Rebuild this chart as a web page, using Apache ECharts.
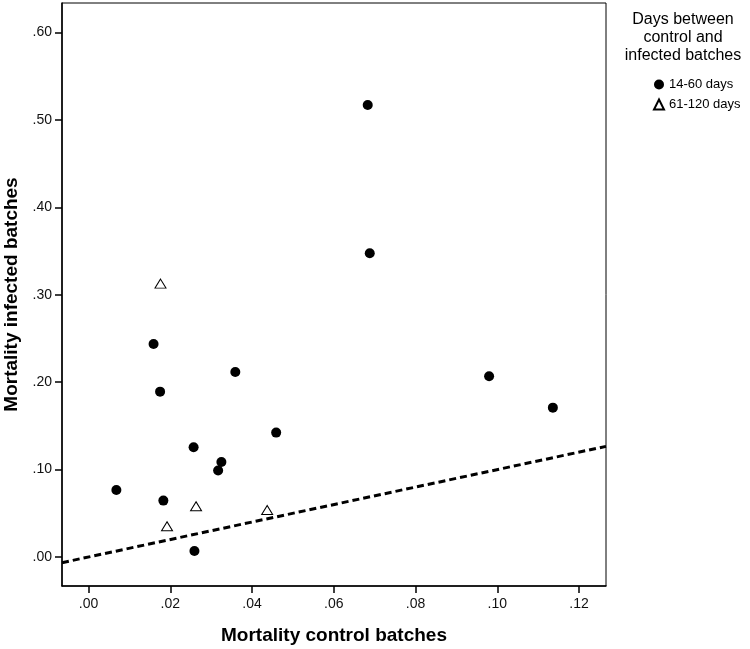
<!DOCTYPE html>
<html><head><meta charset="utf-8">
<script src="https://cdn.jsdelivr.net/npm/echarts@6/dist/echarts.min.js"></script>
<style>html,body{margin:0;padding:0;background:#fff}#c{width:750px;height:649px}</style>
</head><body><div id="c"></div>
<script>
// Tick values and labels
const xTicks = [0, 0.02, 0.04, 0.06, 0.08, 0.10, 0.12];
const xTickLabels = ['.00', '.02', '.04', '.06', '.08', '.10', '.12'];
const yTicks = [0, 0.1, 0.2, 0.3, 0.4, 0.5, 0.6];
const yTickLabels = ['.00', '.10', '.20', '.30', '.40', '.50', '.60'];

// Series: 14-60 days (filled dots)
const shortX = [0.0159, 0.0359, 0.0175, 0.0459, 0.0257, 0.0325, 0.0317, 0.0068, 0.0183, 0.0259, 0.0683, 0.0688, 0.0980, 0.1136];
const shortY = [0.2437, 0.2117, 0.1892, 0.1423, 0.1255, 0.1087, 0.0989, 0.0767, 0.0645, 0.0069, 0.5172, 0.3475, 0.2068, 0.1709];
// Series: 61-120 days (open triangles)
const longX = [0.0176, 0.0263, 0.0192, 0.0437];
const longY = [0.3128, 0.0580, 0.0351, 0.0538];
// Reference line (identity)
const refLineX = [-0.0065, 0.1266];
const refLineY = [-0.0065, 0.1266];

const FONT = '"Liberation Sans", Arial, sans-serif';
function lab(ticks, labels) {
  return function (v) {
    const i = ticks.findIndex(t => Math.abs(t - v) < 1e-9);
    return i >= 0 ? labels[i] : '';
  };
}
const zip = (a, b) => a.map((v, i) => [v, b[i]]);

const chart = echarts.init(document.getElementById('c'), null, {renderer: 'canvas'});
chart.setOption({
  animation: false,
  backgroundColor: '#fff',
  grid: {left: 62, top: 3, right: 144, bottom: 63, outerBoundsMode: 'none', containLabel: false,
         show: true, borderColor: '#000', borderWidth: 1, backgroundColor: 'transparent'},
  xAxis: {
    type: 'value', min: -0.0065, max: 0.1266,
    name: 'Mortality control batches', nameLocation: 'middle', nameGap: 40,
    nameTextStyle: {fontFamily: FONT, fontSize: 19, fontWeight: 'bold', color: '#000'},
    axisLine: {show: true, onZero: false, lineStyle: {color: '#000', width: 1.5}},
    axisTick: {show: true, length: 7, lineStyle: {color: '#000', width: 1.5}, customValues: xTicks},
    axisLabel: {show: true, margin: 11, fontFamily: FONT, fontSize: 14, color: '#111', customValues: xTicks, formatter: lab(xTicks, xTickLabels)},
    splitLine: {show: false}
  },
  yAxis: {
    type: 'value', min: -0.0332, max: 0.6339,
    name: 'Mortality infected batches', nameLocation: 'middle', nameGap: 38,
    nameTextStyle: {fontFamily: FONT, fontSize: 19, fontWeight: 'bold', color: '#000'},
    axisLine: {show: true, onZero: false, lineStyle: {color: '#000', width: 1.5}},
    axisTick: {show: true, length: 7, lineStyle: {color: '#000', width: 1.5}, customValues: yTicks},
    axisLabel: {show: true, margin: 10, fontFamily: FONT, fontSize: 14, color: '#111', customValues: yTicks, formatter: lab(yTicks, yTickLabels)},
    splitLine: {show: false}
  },
  legend: {
    orient: 'vertical', left: 648, top: 73, itemWidth: 10, itemHeight: 10, itemGap: 7,
    data: ['14-60 days', '61-120 days'],
    textStyle: {fontFamily: FONT, fontSize: 13, color: '#000'}
  },
  graphic: [{
    type: 'text', x: 683, y: 11,
    style: {text: 'Days between\ncontrol and\ninfected batches', font: '16px ' + FONT, textAlign: 'center', lineHeight: 18, fill: '#000'}
  }],
  series: [
    {
      type: 'line', data: zip(refLineX, refLineY), symbol: 'none', silent: true, z: 1,
      lineStyle: {color: '#000', width: 3, type: [7, 4]}
    },
    {
      name: '14-60 days', type: 'scatter', data: zip(shortX, shortY), symbol: 'circle', symbolSize: 10, z: 3,
      itemStyle: {color: '#000', opacity: 1}
    },
    {
      name: '61-120 days', type: 'scatter', data: zip(longX, longY), symbol: 'triangle', symbolSize: [11, 9], z: 3,
      itemStyle: {color: '#fff', borderColor: '#000', borderWidth: 1, opacity: 1}
    }
  ]
});
</script>
</body></html>
